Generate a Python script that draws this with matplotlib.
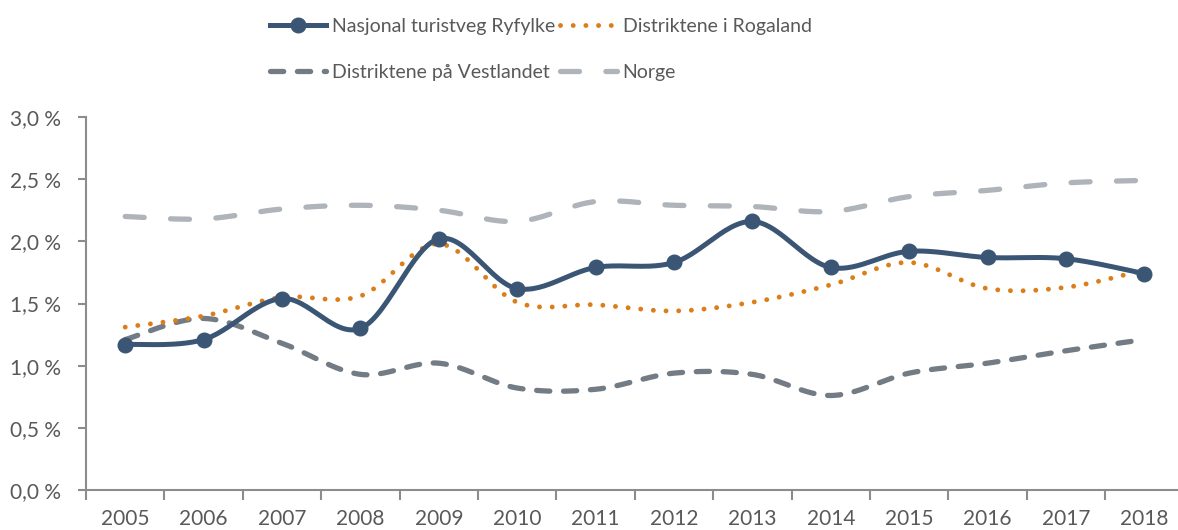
import numpy as np
import matplotlib
matplotlib.use("Agg")
import matplotlib.pyplot as plt
from matplotlib.lines import Line2D
from matplotlib.ticker import FixedLocator, FuncFormatter

years = ["2005", "2006", "2007", "2008", "2009", "2010", "2011",
         "2012", "2013", "2014", "2015", "2016", "2017", "2018"]
ryfylke = [1.17, 1.21, 1.54, 1.30, 2.02, 1.62, 1.79, 1.83, 2.16, 1.79, 1.92, 1.87, 1.86, 1.74]
rogaland = [1.31, 1.40, 1.55, 1.56, 1.98, 1.51, 1.49, 1.44, 1.51, 1.65, 1.83, 1.62, 1.63, 1.77]
vestlandet = [1.21, 1.38, 1.18, 0.93, 1.02, 0.82, 0.81, 0.94, 0.93, 0.76, 0.94, 1.02, 1.12, 1.21]
norge = [2.20, 2.18, 2.26, 2.29, 2.25, 2.16, 2.32, 2.29, 2.28, 2.24, 2.36, 2.41, 2.47, 2.49]

labels = ["Nasjonal turistveg Ryfylke", "Distriktene i Rogaland",
          "Distriktene på Vestlandet", "Norge"]

C_RYF = "#3B5675"
C_ROG = "#DB7E1A"
C_VES = "#737C84"
C_NOR = "#AEB4B9"
C_TXT = "#595959"
C_AX = "#8C8C8C"

plt.rcParams['font.family'] = ['Lato', 'DejaVu Sans']


def smooth(y, n=30):
    """Excel-style smoothed line via cubic Bezier segments (Catmull-Rom)."""
    x = np.arange(len(y), dtype=float)
    y = np.asarray(y, dtype=float)
    P = np.column_stack([x, y])
    out = [P[0]]
    t = np.linspace(0, 1, n)[1:, None]
    for i in range(len(P) - 1):
        p0 = P[i - 1] if i > 0 else P[i]
        p1 = P[i]
        p2 = P[i + 1]
        p3 = P[i + 2] if i + 2 < len(P) else P[i + 1]
        c1 = p1 + (p2 - p0) / 6.0
        c2 = p2 - (p3 - p1) / 6.0
        seg = ((1 - t) ** 3) * p1 + 3 * ((1 - t) ** 2) * t * c1 + 3 * (1 - t) * t ** 2 * c2 + t ** 3 * p2
        out.extend(seg)
    out = np.array(out)
    return out[:, 0], out[:, 1]


fig = plt.figure(figsize=(11.78, 5.30), dpi=100)
ax = fig.add_axes([86 / 1178, 40 / 530, 1097.6 / 1178, 373 / 530])

x_idx = np.arange(len(years))

LS_NOR = (0, (3.6, 5.0))
LS_VES = (0, (2.5, 2.6))
LS_ROG = (0, (0.01, 2.6))

# Norge
sx, sy = smooth(norge)
ax.plot(sx, sy, color=C_NOR, lw=3.8, ls=LS_NOR, dash_capstyle='round', zorder=2)
# Vestlandet
sx, sy = smooth(vestlandet)
ax.plot(sx, sy, color=C_VES, lw=3.8, ls=LS_VES, dash_capstyle='round', zorder=3)
# Rogaland
sx, sy = smooth(rogaland)
ax.plot(sx, sy, color=C_ROG, lw=3.5, ls=LS_ROG, dash_capstyle='round', zorder=4)
# Ryfylke
sx, sy = smooth(ryfylke)
ax.plot(sx, sy, color=C_RYF, lw=3.6, solid_capstyle='round', zorder=5)
ax.plot(x_idx, ryfylke, ls='none', marker='o', ms=10.5, color=C_RYF, zorder=6)

ax.set_xlim(-0.5, len(years) - 0.5)
ax.set_ylim(0, 3.0)

for s in ['top', 'right']:
    ax.spines[s].set_visible(False)
for s in ['left', 'bottom']:
    ax.spines[s].set_color(C_AX)
    ax.spines[s].set_linewidth(1.5)

ax.xaxis.set_major_locator(FixedLocator(np.arange(-0.5, len(years), 1.0)))
ax.xaxis.set_minor_locator(FixedLocator(x_idx))
ax.xaxis.set_major_formatter(FuncFormatter(lambda v, p: ""))
ax.xaxis.set_minor_formatter(FuncFormatter(lambda v, p: years[int(round(v))] if 0 <= round(v) < len(years) else ""))
ax.tick_params(axis='x', which='major', direction='out', length=7, width=1.5, color=C_AX)
ax.tick_params(axis='x', which='minor', length=0, pad=14, labelsize=15, labelcolor=C_TXT)

ax.set_yticks(np.arange(0, 3.01, 0.5))
ax.yaxis.set_major_formatter(FuncFormatter(lambda v, p: f"{v:.1f} %".replace(".", ",")))
ax.tick_params(axis='y', direction='out', length=6, width=1.5, color=C_AX, pad=12,
               labelsize=15, labelcolor=C_TXT)

h_ryf = Line2D([], [], color=C_RYF, lw=3.6, marker='o', ms=10.5)
h_rog = Line2D([], [], color=C_ROG, lw=3.5, ls=LS_ROG, dash_capstyle='round')
h_ves = Line2D([], [], color=C_VES, lw=3.8, ls=LS_VES, dash_capstyle='round')
h_nor = Line2D([], [], color=C_NOR, lw=3.8, ls=LS_NOR, dash_capstyle='round')

leg = fig.legend([h_ryf, h_ves, h_rog, h_nor],
                 [labels[0], labels[2], labels[1], labels[3]],
                 ncol=2, loc='upper left', bbox_to_anchor=(270 / 1178, 1 - 18 / 530),
                 frameon=False, fontsize=14, handlelength=2.9, handletextpad=0.3,
                 columnspacing=0.25, labelspacing=1.5, borderaxespad=0, borderpad=0)
for t in leg.get_texts():
    t.set_color(C_TXT)

fig.savefig("out.png", dpi=100)
